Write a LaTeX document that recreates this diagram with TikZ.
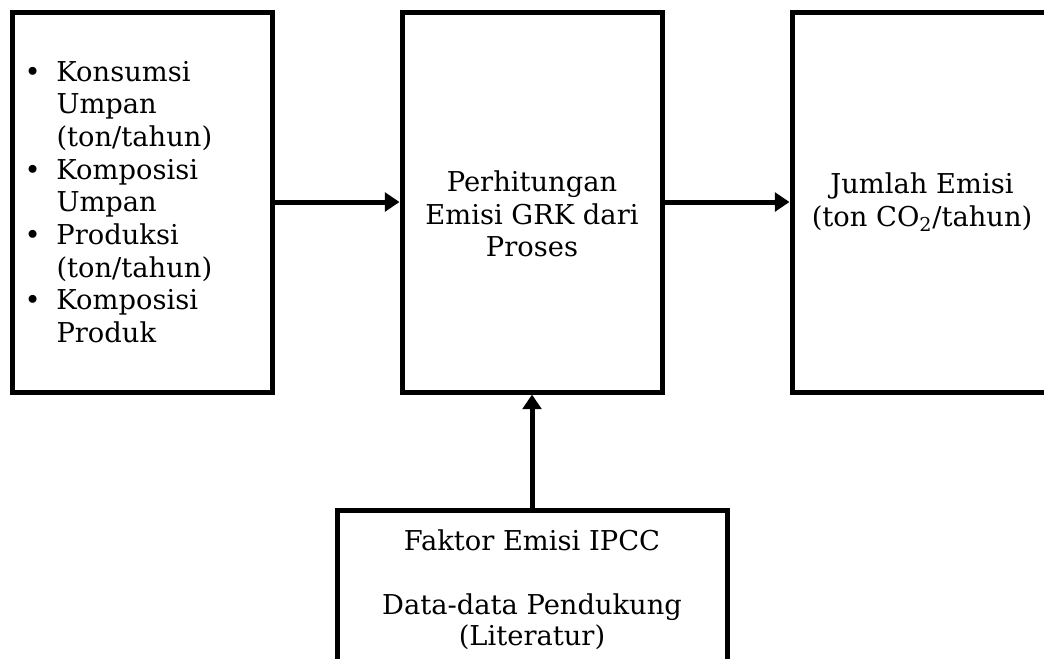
\documentclass[tikz,border=0pt]{standalone}
\usepackage{fontspec}
\setmainfont{DejaVu Serif}
\usetikzlibrary{arrows.meta}

\newcommand{\bul}{\makebox[24pt][l]{\textbullet}}
\newcommand{\ind}{\makebox[24pt]{}}

\begin{document}
\begin{tikzpicture}[x=0.75pt, y=-0.75pt, font=\fontsize{20.5}{24.5}\selectfont,
    blok/.style={draw, line width=3.75pt, minimum width=195pt, minimum height=285pt, align=center},
    panah/.style={line width=3.75pt, -{Triangle[length=11pt,width=14pt]}}]
    \useasboundingbox (0,0) rectangle (1044,658);

    % blok atas
    \node[blok, text width=177pt, align=left] (masukan) at (142.5,202)
        {\bul Konsumsi\\ \ind Umpan\\ \ind (ton/tahun)\\
         \bul Komposisi\\ \ind Umpan\\
         \bul Produksi\\ \ind (ton/tahun)\\
         \bul Komposisi\\ \ind Produk};
    \node[blok] (proses) at (532,202) {};
    \node[align=center] (teksproses) at ([yshift=-9pt]proses.center)
        {Perhitungan\\Emisi GRK dari\\Proses};
    \node[blok] (hasil) at (922,202)
        {Jumlah Emisi\\(ton CO\textsubscript{2}/tahun)};

    % blok bawah
    \node[blok, minimum width=292.5pt, minimum height=120pt, font=\fontsize{20.5}{23}\selectfont] (faktor) at (532,590)
        {Faktor Emisi IPCC\\[25pt]Data-data Pendukung\\(Literatur)};

    \draw[panah] (masukan) -- (proses);
    \draw[panah] (proses) -- (hasil);
    \draw[panah] (faktor) -- (proses);
\end{tikzpicture}
\end{document}
